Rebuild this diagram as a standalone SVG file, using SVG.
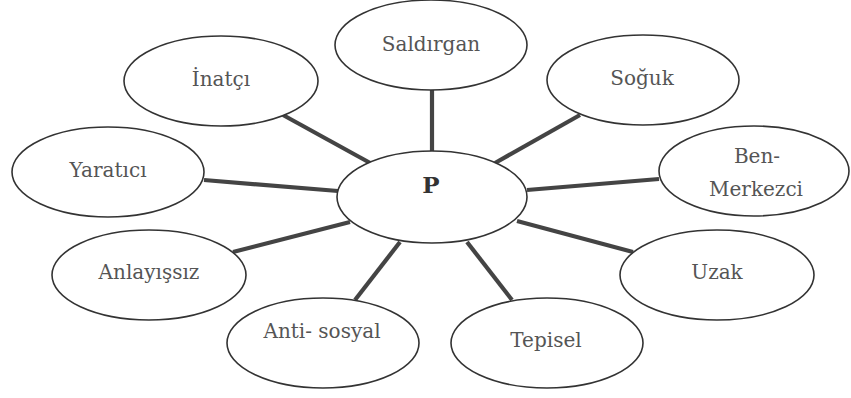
<svg xmlns="http://www.w3.org/2000/svg" width="851" height="398" viewBox="0 0 851 398">
<style>
.n ellipse{fill:#fff;stroke:#333;stroke-width:1.6}
.n text{font-family:"DejaVu Serif","Liberation Serif",serif;font-size:20px;fill:#555;text-anchor:middle}
#c line{stroke:#444;stroke-width:4.2;stroke-linecap:butt}
</style>
<rect width="851" height="398" fill="#fff"/>
<g id="c">
<line x1="432" y1="90" x2="432" y2="153"/>
<line x1="283" y1="115" x2="372" y2="164"/>
<line x1="204" y1="180" x2="338" y2="191"/>
<line x1="233" y1="252" x2="350" y2="222"/>
<line x1="355" y1="300" x2="400" y2="242"/>
<line x1="467" y1="242" x2="512" y2="300"/>
<line x1="517" y1="221" x2="633" y2="252"/>
<line x1="527" y1="190" x2="659" y2="179"/>
<line x1="495" y1="163" x2="580" y2="115"/>
</g>
<g id="saldirgan" class="n"><ellipse cx="431" cy="45" rx="96" ry="45"/><text x="431" y="51">Saldırgan</text></g>
<g id="inatci" class="n"><ellipse cx="221" cy="81" rx="97" ry="45"/><text x="221" y="86">İnatçı</text></g>
<g id="yaratici" class="n"><ellipse cx="108" cy="172" rx="96" ry="45"/><text x="108" y="177">Yaratıcı</text></g>
<g id="anlayissiz" class="n"><ellipse cx="149" cy="275" rx="97" ry="45"/><text x="149" y="279">Anlayışsız</text></g>
<g id="antisosyal" class="n"><ellipse cx="323" cy="343" rx="96" ry="45"/><text x="322" y="338">Anti- sosyal</text></g>
<g id="tepisel" class="n"><ellipse cx="547" cy="343" rx="96" ry="45"/><text x="546" y="347">Tepisel</text></g>
<g id="uzak" class="n"><ellipse cx="717" cy="275" rx="97" ry="45"/><text x="717" y="279">Uzak</text></g>
<g id="benmerkezci" class="n"><ellipse cx="754" cy="171" rx="95" ry="45"/><text x="757" y="163">Ben-</text><text x="756" y="196">Merkezci</text></g>
<g id="soguk" class="n"><ellipse cx="643" cy="80" rx="96" ry="45"/><text x="642" y="85">Soğuk</text></g>
<g id="p" class="n"><ellipse cx="432" cy="197" rx="95" ry="46"/><text x="431" y="193" style="font-weight:bold;fill:#333;font-size:23px">P</text></g>
</svg>
